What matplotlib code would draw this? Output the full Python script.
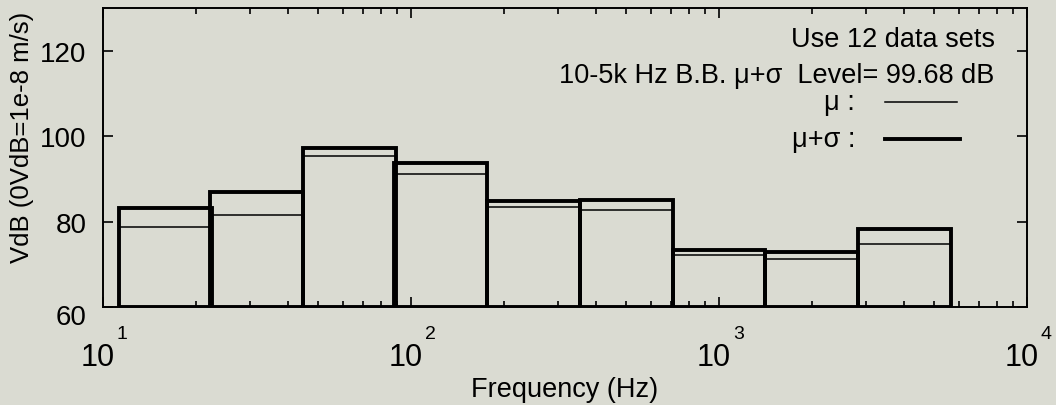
import numpy as np
import matplotlib
matplotlib.use("Agg")
import matplotlib.pyplot as plt
import matplotlib.transforms as mtransforms

plt.rcParams['font.family'] = ['Liberation Sans', 'DejaVu Sans']

# octave band centre frequencies (Hz)
band_centers = [16, 31.5, 63, 125, 250, 500, 1000, 2000, 4000]
# mean level (VdB) per band
mu_levels = [78.7, 81.6, 95.4, 91.2, 83.4, 82.8, 72.2, 71.3, 74.8]
# mean + one standard deviation (VdB) per band
mu_sigma_levels = [83.1, 87.0, 97.2, 93.7, 84.8, 85.1, 73.4, 72.9, 78.3]

x_ticks = [10, 100, 1000, 10000]
x_exponents = ['1', '2', '3', '4']
y_ticks = [60, 80, 100, 120]

BG = '#dadbd2'

fc = np.array(band_centers)
lo = fc / np.sqrt(2)
hi = fc * np.sqrt(2)
base = 60

fig = plt.figure(figsize=(10.56, 4.06), dpi=100, facecolor=BG)
ax = fig.add_axes([0.0975, 0.2414, 0.875, 0.7364])
ax.set_facecolor(BG)

ax.bar(lo, np.array(mu_levels) - base, width=hi - lo, bottom=base, align='edge',
       fill=False, edgecolor='black', linewidth=1.1)
ax.bar(lo, np.array(mu_sigma_levels) - base, width=hi - lo, bottom=base, align='edge',
       fill=False, edgecolor='black', linewidth=2.8)

ax.set_xscale('log')
ax.set_xlim(10, 1e4)
ax.set_ylim(60, 130)
ax.set_yticks(y_ticks)
ax.set_xticks(x_ticks)
ax.set_xticklabels(['10'] * len(x_ticks))

for s in ax.spines.values():
    s.set_linewidth(1.4)

ax.tick_params(which='both', direction='in', top=True, right=True, width=1.2)
ax.tick_params(axis='y', which='major', length=7, pad=12, labelsize=20)
ax.tick_params(axis='x', which='major', length=7, pad=25, labelsize=22)
ax.tick_params(axis='x', which='minor', length=4)

# the "10" sits left of its tick, the exponent to the right and high
shift = mtransforms.ScaledTranslation(-4 / 72, 0, fig.dpi_scale_trans)
for lab in ax.get_xticklabels():
    lab.set_transform(lab.get_transform() + shift)
for t, e in zip(x_ticks, x_exponents):
    ax.annotate(e, xy=(t, 0), xycoords=('data', 'axes fraction'),
                xytext=(14, -19), textcoords='offset points',
                ha='center', va='center', fontsize=14, annotation_clip=False)

# the "60" label sits a little below its tick
lab60 = ax.get_yticklabels()[0]
lab60.set_transform(lab60.get_transform() +
                    mtransforms.ScaledTranslation(0, -5 / 72, fig.dpi_scale_trans))

ax.set_xlabel('Frequency (Hz)', fontsize=19.5)
ax.xaxis.set_label_coords(0.5, -0.23)
ax.set_ylabel('VdB (0VdB=1e-8 m/s)', fontsize=18.5)
ax.yaxis.set_label_coords(-0.075, 0.569)

tr = ax.transAxes
ax.text(0.965, 0.896, 'Use 12 data sets', transform=tr, ha='right', va='center', fontsize=19.5)
ax.text(0.965, 0.776, '10-5k Hz B.B. μ+σ  Level= 99.68 dB', transform=tr,
        ha='right', va='center', fontsize=19.5)
ax.text(0.814, 0.686, 'μ :', transform=tr, ha='right', va='center', fontsize=19.5)
ax.text(0.814, 0.562, 'μ+σ :', transform=tr, ha='right', va='center', fontsize=19.5)
ax.plot([0.846, 0.924], [0.686, 0.686], transform=tr, color='black', linewidth=1.1)
ax.plot([0.846, 0.928], [0.562, 0.562], transform=tr, color='black', linewidth=2.8)

fig.savefig('out.png', dpi=100, facecolor=BG)
